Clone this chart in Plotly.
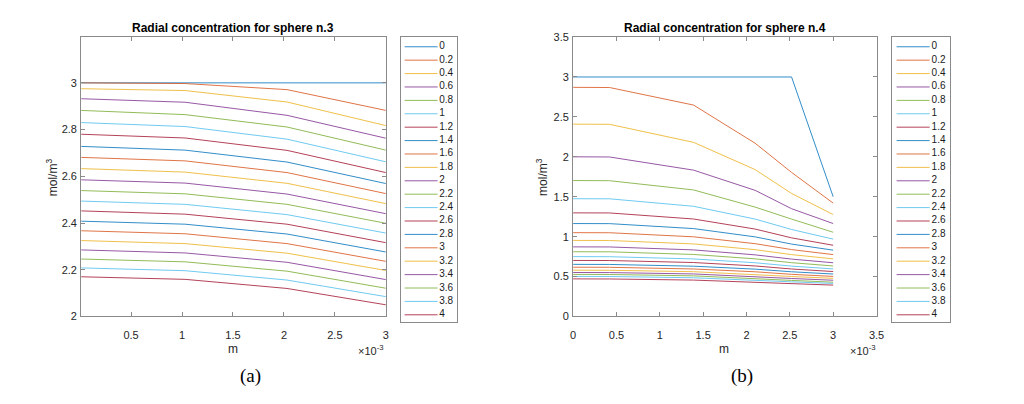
import plotly.graph_objects as go

W, H = 1024, 404

# ---------------- data ----------------
times = ["0", "0.2", "0.4", "0.6", "0.8", "1", "1.2", "1.4", "1.6", "1.8", "2",
         "2.2", "2.4", "2.6", "2.8", "3", "3.2", "3.4", "3.6", "3.8", "4"]

# sphere n.3 (x in units of 1e-3 m)
x_s3 = [0.01, 1.03, 2.03, 3.0]
c_s3 = [
    [3.000, 3.000, 3.000, 3.000],
    [3.000, 2.997, 2.971, 2.882],
    [2.975, 2.967, 2.918, 2.817],
    [2.932, 2.917, 2.861, 2.763],
    [2.882, 2.864, 2.811, 2.712],
    [2.830, 2.813, 2.759, 2.662],
    [2.780, 2.764, 2.711, 2.616],
    [2.728, 2.712, 2.661, 2.569],
    [2.681, 2.666, 2.616, 2.526],
    [2.633, 2.618, 2.570, 2.483],
    [2.585, 2.571, 2.524, 2.440],
    [2.539, 2.525, 2.480, 2.399],
    [2.494, 2.480, 2.436, 2.357],
    [2.452, 2.438, 2.395, 2.316],
    [2.408, 2.395, 2.353, 2.276],
    [2.367, 2.354, 2.312, 2.236],
    [2.325, 2.312, 2.271, 2.197],
    [2.285, 2.272, 2.232, 2.158],
    [2.246, 2.234, 2.194, 2.121],
    [2.208, 2.196, 2.156, 2.085],
    [2.170, 2.159, 2.120, 2.050],
]

# sphere n.4
x_s4 = [0.0, 0.42, 1.39, 2.1, 2.52, 3.0]
c_s4 = [
    [3.000, 3.000, 3.000, 3.000, 3.000, 1.500],
    [2.870, 2.868, 2.648, 2.170, 1.805, 1.420],
    [2.409, 2.407, 2.181, 1.840, 1.541, 1.277],
    [2.000, 1.998, 1.833, 1.580, 1.350, 1.164],
    [1.703, 1.701, 1.585, 1.370, 1.220, 1.055],
    [1.475, 1.474, 1.380, 1.220, 1.090, 0.969],
    [1.298, 1.297, 1.221, 1.095, 0.985, 0.892],
    [1.164, 1.163, 1.101, 0.997, 0.907, 0.831],
    [1.050, 1.049, 0.998, 0.912, 0.838, 0.775],
    [0.953, 0.952, 0.909, 0.837, 0.775, 0.722],
    [0.872, 0.871, 0.834, 0.772, 0.719, 0.673],
    [0.811, 0.810, 0.777, 0.722, 0.674, 0.633],
    [0.750, 0.749, 0.721, 0.673, 0.631, 0.596],
    [0.702, 0.701, 0.676, 0.633, 0.595, 0.563],
    [0.653, 0.652, 0.630, 0.593, 0.560, 0.532],
    [0.617, 0.616, 0.595, 0.560, 0.528, 0.502],
    [0.580, 0.579, 0.561, 0.529, 0.501, 0.478],
    [0.551, 0.550, 0.533, 0.503, 0.476, 0.454],
    [0.527, 0.526, 0.509, 0.479, 0.452, 0.430],
    [0.502, 0.501, 0.485, 0.458, 0.434, 0.414],
    [0.471, 0.470, 0.456, 0.432, 0.411, 0.393],
]

x3_ticks = [0.5, 1, 1.5, 2, 2.5, 3]
y3_ticks = [2, 2.2, 2.4, 2.6, 2.8, 3]
x4_ticks = [0, 0.5, 1, 1.5, 2, 2.5, 3, 3.5]
y4_ticks = [0, 0.5, 1, 1.5, 2, 2.5, 3, 3.5]

colors = ["#0072BD", "#D95319", "#EDB120", "#7E2F8E", "#77AC30", "#4DBEEE", "#A2142F"]

# ---------------- layout helpers ----------------
def px_x(p):
    return p / W

def px_y(p):
    return 1 - p / H

AX_COL = "#8a8a8a"
FONT = "Liberation Sans, Arial, Helvetica, sans-serif"
LINE_OP = 0.8

fig = go.Figure()

# data traces
for k, t in enumerate(times):
    col = colors[k % len(colors)]
    fig.add_trace(go.Scatter(x=x_s3, y=c_s3[k], mode="lines", line=dict(color=col, width=1),
                             opacity=LINE_OP, xaxis="x", yaxis="y", showlegend=False,
                             hoverinfo="skip"))
    fig.add_trace(go.Scatter(x=x_s4, y=c_s4[k], mode="lines", line=dict(color=col, width=1),
                             opacity=LINE_OP, xaxis="x2", yaxis="y2", showlegend=False,
                             hoverinfo="skip"))

# custom legends (one per panel)
leg_cfg = [("x3", "y3", 4.0, 37.3, 39.0), ("x4", "y4", 4.3, 37.7, 39.7)]
for xa, ya, l0, l1, tx in leg_cfg:
    for k, t in enumerate(times):
        col = colors[k % len(colors)]
        fig.add_trace(go.Scatter(x=[l0, l1], y=[k, k], mode="lines", line=dict(color=col, width=1),
                                 opacity=LINE_OP, xaxis=xa, yaxis=ya, showlegend=False,
                                 hoverinfo="skip"))
    fig.add_trace(go.Scatter(x=[tx] * len(times), y=list(range(len(times))), mode="text",
                             text=times, textposition="middle right",
                             textfont=dict(family=FONT, size=10, color="#1a1a1a"),
                             xaxis=xa, yaxis=ya, showlegend=False, hoverinfo="skip"))

common_axis = dict(showgrid=False, zeroline=False, showline=True, mirror="ticks",
                   linecolor=AX_COL, linewidth=1, ticks="inside", ticklen=4,
                   tickcolor=AX_COL, tickfont=dict(family=FONT, size=11, color="#262626"))

y_dom = [px_y(320), px_y(32)]
fig.update_layout(
    width=W, height=H, margin=dict(l=0, r=0, t=0, b=0),
    paper_bgcolor="white", plot_bgcolor="white", showlegend=False,
    xaxis=dict(domain=[px_x(79), px_x(387)], range=[0.01, 3.0], tickvals=x3_ticks,
               ticktext=[f"{v:g}" for v in x3_ticks], anchor="y", ticklabelstandoff=8,
               **common_axis),
    yaxis=dict(domain=y_dom, range=[2, 3.196], tickvals=y3_ticks,
               ticktext=[f"{v:g}" for v in y3_ticks], anchor="x", ticklabelstandoff=1,
               **common_axis),
    xaxis2=dict(domain=[px_x(576.3), px_x(883)], range=[0, 3.5], tickvals=x4_ticks,
                ticktext=[f"{v:g}" for v in x4_ticks], anchor="y2", ticklabelstandoff=8,
                **common_axis),
    yaxis2=dict(domain=y_dom, range=[0, 3.5], tickvals=y4_ticks,
                ticktext=[f"{v:g}" for v in y4_ticks], anchor="x2", ticklabelstandoff=1,
                **common_axis),
    xaxis3=dict(domain=[px_x(402), px_x(459)], range=[0, 57], anchor="y3",
                showgrid=False, zeroline=False, showticklabels=False, ticks="",
                showline=True, mirror=True, linecolor=AX_COL, linewidth=1),
    yaxis3=dict(domain=[px_y(326), px_y(32)], range=[20.56, -0.725], anchor="x3",
                showgrid=False, zeroline=False, showticklabels=False, ticks="",
                showline=True, mirror=True, linecolor=AX_COL, linewidth=1),
    xaxis4=dict(domain=[px_x(899), px_x(957)], range=[0, 58], anchor="y4",
                showgrid=False, zeroline=False, showticklabels=False, ticks="",
                showline=True, mirror=True, linecolor=AX_COL, linewidth=1),
    yaxis4=dict(domain=[px_y(326), px_y(32)], range=[20.56, -0.725], anchor="x4",
                showgrid=False, zeroline=False, showticklabels=False, ticks="",
                showline=True, mirror=True, linecolor=AX_COL, linewidth=1),
)

ann = []
def add_text(x, y, text, size=11, family=FONT, angle=0, xanchor="center", yanchor="middle",
             color="#262626"):
    ann.append(dict(x=px_x(x), y=px_y(y), xref="paper", yref="paper", text=text,
                    showarrow=False, textangle=angle, xanchor=xanchor, yanchor=yanchor,
                    font=dict(family=family, size=size, color=color)))

# titles
add_text(233, 23, "<b>Radial concentration for sphere n.3</b>", size=12, color="#000")
add_text(729.6, 23, "<b>Radial concentration for sphere n.4</b>", size=12, color="#000")
# axis labels
add_text(232, 354, "m", size=12)
add_text(729, 354, "m", size=12)
add_text(49, 176, "mol/m<sup>3</sup>", size=12, angle=-90)
add_text(545, 176, "mol/m<sup>3</sup>", size=12, angle=-90)
# exponent labels
add_text(387, 355, "×10<sup>-3</sup>", xanchor="right")
add_text(884, 355, "×10<sup>-3</sup>", xanchor="right")
# captions
add_text(250, 381, "(a)", size=19, family="Liberation Serif, Times New Roman, serif", color="#000")
add_text(747, 381, "(b)", size=19, family="Liberation Serif, Times New Roman, serif", color="#000")

fig.update_layout(annotations=ann)
fig.write_html("out.html")
